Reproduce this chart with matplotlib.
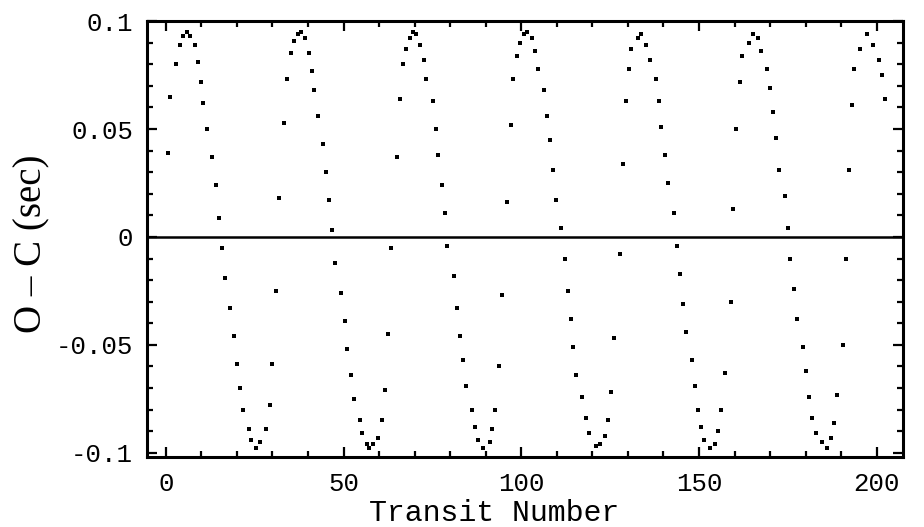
import matplotlib.pyplot as plt
from matplotlib.ticker import MultipleLocator, FixedLocator, FixedFormatter

# transit number and timing residual (O - C) in seconds
transit = [
    0.6, 1.3, 3.0, 3.9, 4.9, 5.9, 6.9, 8.2, 9.0, 9.8, 10.4, 11.5, 13.1, 14.1, 14.9,
    15.8, 16.6, 18.2, 19.1, 19.9, 20.8, 21.6, 23.3, 24.1, 25.3, 26.6, 28.3, 29.3,
    30.0, 30.9, 31.9, 33.3, 34.2, 35.1, 36.0, 37.1, 38.1, 39.3, 40.3, 41.2, 41.8,
    42.7, 44.2, 45.2, 46.0, 46.9, 47.5, 49.4, 50.4, 51.1, 52.0, 52.9, 54.6, 55.3,
    56.6, 57.2, 58.3, 59.7, 60.7, 61.6, 62.4, 63.3, 65.1, 65.8, 66.6, 67.5, 68.6,
    69.6, 70.5, 71.6, 72.7, 73.3, 75.2, 76.0, 76.7, 77.6, 78.5, 79.1, 81.0, 81.8,
    82.7, 83.5, 84.4, 86.0, 86.9, 87.7, 89.1, 91.1, 91.9, 92.7, 93.6, 94.5, 96.1,
    97.0, 97.7, 98.7, 99.7, 100.7, 101.7, 102.9, 103.8, 104.7, 106.3, 107.3, 108.0,
    108.9, 109.7, 111.3, 112.2, 113.2, 113.9, 114.6, 115.5, 117.2, 118.1, 119.1,
    121.0, 122.1, 123.5, 124.4, 125.1, 126.0, 127.7, 128.6, 129.4, 130.3, 131.0,
    132.9, 133.8, 135.2, 136.1, 137.8, 138.8, 139.4, 140.4, 141.3, 142.9, 143.8,
    144.6, 145.5, 146.3, 148.0, 148.8, 149.7, 150.5, 151.4, 153.0, 154.4, 155.4,
    156.3, 157.2, 159.1, 159.6, 160.5, 161.5, 162.2, 164.1, 165.2, 166.6, 167.3,
    169.0, 169.9, 170.7, 171.6, 172.4, 174.1, 175.1, 175.7, 176.7, 177.6, 179.3,
    180.2, 181.0, 181.9, 182.8, 184.7, 186.0, 187.0, 187.9, 188.7, 190.5, 191.3,
    192.2, 192.9, 193.6, 195.4, 197.3, 198.8, 200.6, 201.4, 202.3,
]
o_minus_c = [
    0.039, 0.065, 0.080, 0.089, 0.093, 0.095, 0.093, 0.089, 0.081, 0.072, 0.062,
    0.050, 0.037, 0.024, 0.009, -0.005, -0.019, -0.033, -0.046, -0.059, -0.070,
    -0.080, -0.089, -0.094, -0.098, -0.095, -0.089, -0.078, -0.059, -0.025, 0.018,
    0.053, 0.073, 0.085, 0.091, 0.094, 0.095, 0.092, 0.085, 0.077, 0.068, 0.056,
    0.043, 0.030, 0.017, 0.003, -0.012, -0.026, -0.039, -0.052, -0.064, -0.075,
    -0.085, -0.091, -0.096, -0.098, -0.096, -0.093, -0.085, -0.071, -0.045, -0.005,
    0.037, 0.064, 0.080, 0.087, 0.092, 0.095, 0.094, 0.089, 0.082, 0.073, 0.063,
    0.050, 0.038, 0.024, 0.011, -0.004, -0.018, -0.033, -0.046, -0.057, -0.069,
    -0.080, -0.088, -0.094, -0.098, -0.095, -0.089, -0.080, -0.060, -0.027, 0.016,
    0.052, 0.073, 0.084, 0.090, 0.094, 0.095, 0.092, 0.086, 0.078, 0.068, 0.056,
    0.045, 0.031, 0.017, 0.004, -0.010, -0.025, -0.038, -0.051, -0.064, -0.074,
    -0.084, -0.091, -0.097, -0.096, -0.092, -0.085, -0.072, -0.047, -0.008, 0.034,
    0.063, 0.078, 0.087, 0.092, 0.094, 0.089, 0.082, 0.073, 0.063, 0.051, 0.038,
    0.025, 0.011, -0.004, -0.017, -0.031, -0.044, -0.057, -0.069, -0.080, -0.088,
    -0.094, -0.098, -0.096, -0.090, -0.080, -0.063, -0.030, 0.013, 0.050, 0.072,
    0.084, 0.090, 0.094, 0.092, 0.086, 0.078, 0.069, 0.058, 0.046, 0.031, 0.019,
    0.004, -0.010, -0.024, -0.038, -0.051, -0.062, -0.074, -0.084, -0.091, -0.095,
    -0.098, -0.093, -0.086, -0.073, -0.050, -0.010, 0.031, 0.061, 0.078, 0.087,
    0.094, 0.089, 0.082, 0.075, 0.064,
]

x_ticks = [0, 50, 100, 150, 200]
y_ticks = [-0.1, -0.05, 0, 0.05, 0.1]
y_tick_labels = ["-0.1", "-0.05", "0", "0.05", "0.1"]

fig = plt.figure(figsize=(9.24, 5.27), dpi=100)
ax = fig.add_axes([0.159, 0.133, 0.818, 0.827])

ax.plot(transit, o_minus_c, linestyle="none", marker="s", markersize=3.0,
        color="black", markeredgewidth=0)
ax.axhline(0, color="black", linewidth=1.8)

ax.set_xlim(-5.3, 207.3)
ax.set_ylim(-0.1019, 0.1)

for side in ax.spines.values():
    side.set_linewidth(2.2)

ax.xaxis.set_major_locator(FixedLocator(x_ticks))
ax.xaxis.set_minor_locator(MultipleLocator(10))
ax.yaxis.set_major_locator(FixedLocator(y_ticks))
ax.yaxis.set_major_formatter(FixedFormatter(y_tick_labels))
ax.yaxis.set_minor_locator(MultipleLocator(0.01))

ax.tick_params(which="both", direction="in", top=True, right=True, width=1.6)
ax.tick_params(which="major", length=7)
ax.tick_params(which="minor", length=4)
ax.tick_params(axis="x", which="major", pad=11)
ax.tick_params(axis="y", which="major", pad=10)

for lab in ax.get_xticklabels() + ax.get_yticklabels():
    lab.set_fontfamily("Liberation Mono")
    lab.set_fontsize(18.5)

ax.set_xlabel("Transit Number", fontfamily="Liberation Mono", fontsize=21.5)
ax.xaxis.set_label_coords(0.46, -0.097)
ax.set_ylabel("O \u2013 C (sec)", fontfamily="Liberation Serif", fontsize=28)
ax.yaxis.set_label_coords(-0.128, 0.49)

fig.savefig("out.png", dpi=100)
